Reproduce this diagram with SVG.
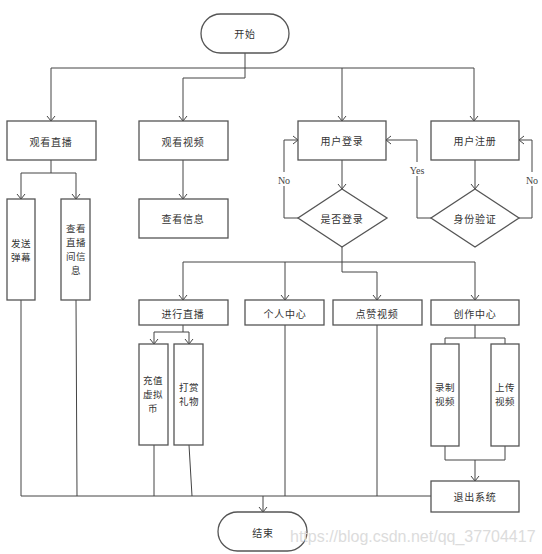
<svg xmlns="http://www.w3.org/2000/svg" width="542" height="554" viewBox="0 0 542 554">
<style>
.box{fill:#fff;stroke:#555;stroke-width:1.3}
.t{font-family:"Noto Sans CJK SC","Noto Sans",sans-serif;font-size:10px;fill:#333;text-anchor:middle;dominant-baseline:central;letter-spacing:0.8px}
.v{font-size:9.5px;letter-spacing:0.5px}
.c{fill:none;stroke:#444;stroke-width:1}
.a{marker-end:url(#arr)}
.lbl{font-family:"Liberation Serif",serif;font-size:10px;fill:#444;text-anchor:middle;dominant-baseline:central}
.wm{font-family:"Liberation Sans",Arial,sans-serif;font-size:16px;fill:#dcdcdc}
</style>
<defs>
<marker id="arr" viewBox="-6 -5 7 10" refX="0" refY="0" markerWidth="7" markerHeight="10" orient="auto" markerUnits="userSpaceOnUse">
<path d="M-5,-4 L0,0 L-5,4" fill="none" stroke="#444" stroke-width="1"/>
</marker>
</defs>
<rect width="542" height="554" fill="#fff"/>

<g id="connectors">
<path class="c" d="M245,53 V68 M51,68 H474"/>
<path class="c a" d="M51,68 V121"/>
<path class="c a" d="M342,68 V121"/>
<path class="c a" d="M474,68 V121"/>
<path class="c a" d="M245,68 V78 H183 V121"/>
<path class="c" d="M51,160 V173 M21,173 H76"/>
<path class="c a" d="M21,173 V199"/>
<path class="c a" d="M76,173 V199"/>
<path class="c a" d="M183,160 V199"/>
<path class="c a" d="M342,160 V189"/>
<path class="c a" d="M298,218 H284 V140 H298"/>
<path class="c a" d="M475,160 V189"/>
<path class="c a" d="M431,218 H417 V140 H386"/>
<path class="c a" d="M519,218 H532 V140 H519"/>
<path class="c a" d="M342,247 V272 H377 V300"/>
<path class="c" d="M183,262 H475"/>
<path class="c a" d="M183,262 V300"/>
<path class="c a" d="M285,262 V300"/>
<path class="c a" d="M475,262 V300"/>
<path class="c" d="M183,325 V332 M154,332 H189"/>
<path class="c a" d="M154,332 V344"/>
<path class="c a" d="M189,332 V344"/>
<path class="c" d="M475,325 V338 M445,338 H505 M445,338 V344 M505,338 V344"/>
<path class="c" d="M445,446 V460 H505 V446"/>
<path class="c a" d="M475,460 V481"/>
<path class="c" d="M21,300 V496 M76,300 L77,496 M154,445 V496 M189,445 L192,496 M285,325 V496 M377,325 V496 M21,496 H431"/>
<path class="c a" d="M263,496 V512"/>
<rect x="277" y="172" width="14" height="14" fill="#fff"/>
<text class="lbl" x="284" y="180">No</text>
<rect x="409" y="162" width="16" height="14" fill="#fff"/>
<text class="lbl" x="417" y="170">Yes</text>
<rect x="525" y="172" width="14" height="14" fill="#fff"/>
<text class="lbl" x="532" y="180">No</text>
</g>

<g id="start"><rect class="box" x="201" y="14" width="88" height="39" rx="19.5"/><text class="t" x="245" y="33">开始</text></g>
<g id="watch-live"><rect class="box" x="7" y="121" width="89" height="39"/><text class="t" x="51" y="141">观看直播</text></g>
<g id="watch-video"><rect class="box" x="139" y="121" width="89" height="39"/><text class="t" x="183" y="141">观看视频</text></g>
<g id="login"><rect class="box" x="298" y="121" width="88" height="39"/><text class="t" x="342" y="140">用户登录</text></g>
<g id="register"><rect class="box" x="431" y="121" width="88" height="39"/><text class="t" x="475" y="140">用户注册</text></g>
<g id="send-danmu"><rect class="box" x="7" y="199" width="28" height="101"/><text class="t v" x="21" y="243"><tspan x="21" dy="0">发送</tspan><tspan x="21" dy="14">弹幕</tspan></text></g>
<g id="room-info"><rect class="box" x="61" y="199" width="29" height="101"/><text class="t v" x="76" y="228"><tspan x="76" dy="0">查看</tspan><tspan x="76" dy="14">直播</tspan><tspan x="76" dy="14">间信</tspan><tspan x="76" dy="14">息</tspan></text></g>
<g id="view-info"><rect class="box" x="139" y="199" width="89" height="39"/><text class="t" x="183" y="218">查看信息</text></g>
<g id="is-login"><polygon class="box" points="342,189 387,218 342,247 298,218"/><text class="t" x="342" y="218">是否登录</text></g>
<g id="verify"><polygon class="box" points="475,189 519,218 475,247 431,218"/><text class="t" x="475" y="218">身份验证</text></g>
<g id="do-live"><rect class="box" x="139" y="300" width="89" height="25"/><text class="t" x="183" y="313">进行直播</text></g>
<g id="personal"><rect class="box" x="245" y="300" width="79" height="25"/><text class="t" x="285" y="313">个人中心</text></g>
<g id="like-video"><rect class="box" x="333" y="300" width="89" height="25"/><text class="t" x="377" y="313">点赞视频</text></g>
<g id="create"><rect class="box" x="431" y="300" width="88" height="25"/><text class="t" x="475" y="313">创作中心</text></g>
<g id="recharge"><rect class="box" x="139" y="344" width="29" height="101"/><text class="t v" x="153" y="380"><tspan x="153" dy="0">充值</tspan><tspan x="153" dy="14">虚拟</tspan><tspan x="153" dy="14">币</tspan></text></g>
<g id="gift"><rect class="box" x="174" y="344" width="29" height="101"/><text class="t v" x="189" y="387"><tspan x="189" dy="0">打赏</tspan><tspan x="189" dy="14">礼物</tspan></text></g>
<g id="record"><rect class="box" x="431" y="344" width="28" height="102"/><text class="t v" x="445" y="387"><tspan x="445" dy="0">录制</tspan><tspan x="445" dy="14">视频</tspan></text></g>
<g id="upload"><rect class="box" x="491" y="344" width="28" height="102"/><text class="t v" x="505" y="387"><tspan x="505" dy="0">上传</tspan><tspan x="505" dy="14">视频</tspan></text></g>
<g id="logout"><rect class="box" x="431" y="481" width="88" height="31"/><text class="t" x="475" y="496">退出系统</text></g>
<g id="end"><rect class="box" x="218" y="512" width="89" height="39" rx="19.5"/><text class="t" x="263" y="532">结束</text></g>
<text class="wm" x="290" y="542">https://blog.csdn.net/qq_37704417</text>
</svg>
